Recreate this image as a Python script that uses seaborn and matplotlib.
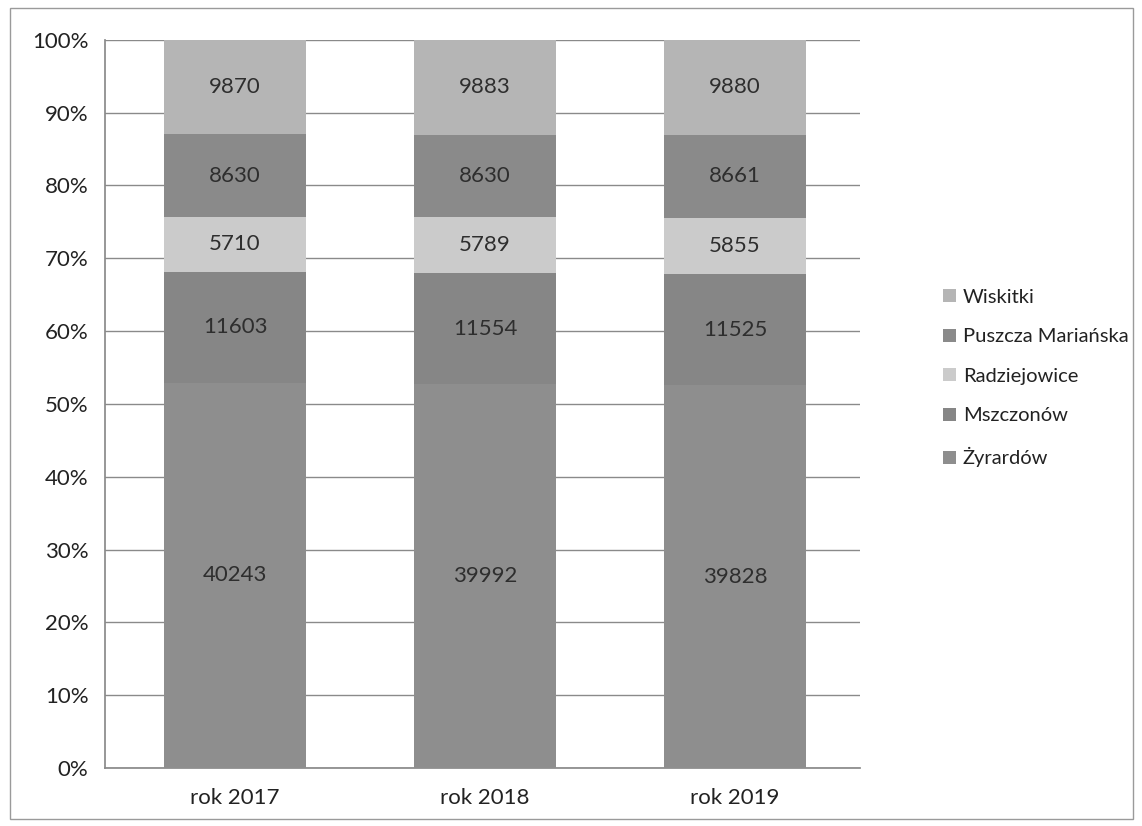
import matplotlib
matplotlib.use("Agg")
import matplotlib.pyplot as plt
import seaborn as sns
import pandas as pd
import numpy as np
from matplotlib.patches import Patch, Rectangle

years = ["rok 2017", "rok 2018", "rok 2019"]
zyrardow = [40243, 39992, 39828]
mszczonow = [11603, 11554, 11525]
radziejowice = [5710, 5789, 5855]
puszcza = [8630, 8630, 8661]
wiskitki = [9870, 9883, 9880]

series_names = ["Żyrardów", "Mszczonów", "Radziejowice", "Puszcza Mariańska", "Wiskitki"]
series_vals = [zyrardow, mszczonow, radziejowice, puszcza, wiskitki]
colors = ["#8e8e8e", "#868686", "#cbcbcb", "#8a8a8a", "#b5b5b5"]

sns.set_theme(style="white")
plt.rcParams['font.family'] = ['Lato', 'DejaVu Sans']

vals = np.array(series_vals, dtype=float)
totals = vals.sum(axis=0)
pct = vals / totals * 100
cum = np.cumsum(pct, axis=0)

fig = plt.figure(figsize=(11.42, 8.26), dpi=100)
ax = fig.add_axes([0.092, 0.070, 0.661, 0.882])

# outer frame
fig.patches.append(Rectangle((0.009, 0.008), 0.983, 0.982, transform=fig.transFigure,
                             fill=False, edgecolor="#9a9a9a", linewidth=1.0))

ax.set_ylim(0, 100)
ax.set_yticks(np.arange(0, 101, 10))
ax.yaxis.grid(True, color="#8a8a8a", linewidth=1.0)
ax.set_axisbelow(True)

for i in range(len(series_names) - 1, -1, -1):
    df = pd.DataFrame({"year": years, "val": cum[i]})
    sns.barplot(data=df, x="year", y="val", color=colors[i], width=0.565,
                saturation=1, ax=ax, linewidth=0, edgecolor="none",
                zorder=2 + (len(series_names) - i))

for i in range(len(series_names)):
    bottoms = cum[i] - pct[i]
    for j in range(len(years)):
        ax.text(j, bottoms[j] + pct[i][j] / 2, str(series_vals[i][j]),
                ha="center", va="center", fontsize=16, color="#2e2e2e", zorder=20)

ax.set_xlabel("")
ax.set_ylabel("")
ax.set_yticklabels([f"{v}%" for v in range(0, 101, 10)])
ax.tick_params(axis="both", labelsize=16, colors="#222222", length=0)
ax.tick_params(axis="x", pad=14)
ax.tick_params(axis="y", pad=12)
for s in ["top", "right"]:
    ax.spines[s].set_visible(False)
ax.spines["left"].set_color("#8a8a8a")
ax.spines["bottom"].set_color("#8a8a8a")
ax.set_xlim(-0.52, 2.5)

handles = [Patch(facecolor=colors[i], edgecolor="none", label=series_names[i])
           for i in range(len(series_names) - 1, -1, -1)]
leg = fig.legend(handles=handles, loc="center left", bbox_to_anchor=(0.826, 0.5424),
                 frameon=False, fontsize=14.5, handlelength=0.62, handleheight=0.62,
                 handletextpad=0.35, labelspacing=1.12, borderpad=0, borderaxespad=0)
for t in leg.get_texts():
    t.set_color("#222222")

fig.savefig("out.png", dpi=100)
